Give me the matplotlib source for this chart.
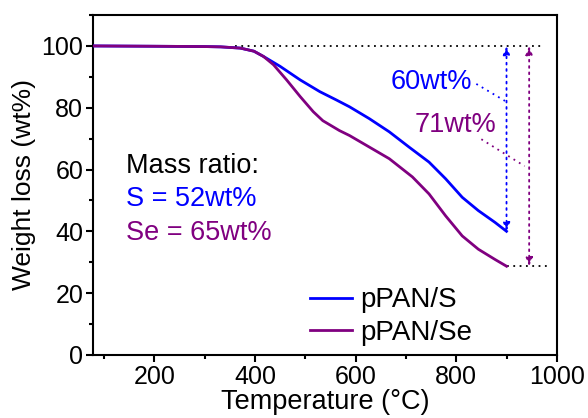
import matplotlib
matplotlib.use("Agg")
import matplotlib.pyplot as plt
from matplotlib.ticker import MultipleLocator

plt.rcParams['font.family'] = ['Liberation Sans', 'DejaVu Sans']

# Data
temp_s = [80, 200, 300, 332, 371, 398, 417, 450, 490, 529, 562, 588, 627, 667, 706, 746, 779, 812, 844, 877, 900]
wt_s = [100, 99.9, 99.8, 99.7, 99.3, 98.3, 96.6, 93.4, 89.0, 85.2, 82.5, 80.3, 76.5, 72.2, 67.3, 62.4, 57.0, 51.0, 46.7, 42.9, 40.0]
temp_se = [80, 200, 300, 332, 371, 398, 417, 437, 463, 490, 516, 535, 568, 588, 627, 667, 713, 746, 779, 812, 844, 877, 900]
wt_se = [100, 99.9, 99.8, 99.7, 99.3, 98.3, 96.6, 93.9, 89.0, 83.6, 78.7, 75.8, 72.6, 71.0, 67.3, 63.5, 57.6, 52.1, 45.0, 38.5, 34.2, 30.9, 28.7]
labels = ["pPAN/S", "pPAN/Se"]
colors = ["#0000ff", "#800080"]
loss_labels = ["60wt%", "71wt%"]
ratio_lines = ["Mass ratio:", "S = 52wt%", "Se = 65wt%"]

fig = plt.figure(figsize=(5.88, 4.18), dpi=100)
ax = fig.add_axes([0.158, 0.151, 0.789, 0.813])

ax.plot(temp_s, wt_s, color=colors[0], lw=2.0, label=labels[0], zorder=3)
ax.plot(temp_se, wt_se, color=colors[1], lw=2.0, label=labels[1], zorder=3)

dot = (0, (1, 2.5))
ax.plot([360, 975], [100, 100], color='black', lw=1.3, ls=dot, zorder=2)
ax.plot([900, 980], [wt_se[-1], wt_se[-1]], color='black', lw=1.3, ls=dot, zorder=2)

# vertical double arrows
for x, ybot, c in [(900, wt_s[-1], colors[0]), (945, wt_se[-1], colors[1])]:
    ax.annotate('', xy=(x, 100), xytext=(x, ybot),
                arrowprops=dict(arrowstyle='<|-|>,head_length=0.5,head_width=0.2', color=c, lw=1.3, ls=dot,
                                mutation_scale=10, shrinkA=0, shrinkB=0))

# leader lines
ax.plot([840, 897], [87.7, 82.2], color=colors[0], lw=1.3, ls=dot)
ax.plot([850, 936], [69.8, 61.1], color=colors[1], lw=1.3, ls=dot)

ax.text(750, 88.3, loss_labels[0], color=colors[0], fontsize=19.5, ha='center', va='center')
ax.text(799, 74.4, loss_labels[1], color=colors[1], fontsize=19.5, ha='center', va='center')

ax.text(143, 61.3, ratio_lines[0], color='black', fontsize=19.5, ha='left', va='center')
ax.text(143, 50.3, ratio_lines[1], color=colors[0], fontsize=19.5, ha='left', va='center')
ax.text(143, 39.6, ratio_lines[2], color=colors[1], fontsize=19.5, ha='left', va='center')

ax.set_xlim(78, 1000)
ax.set_ylim(0, 110)
ax.xaxis.set_major_locator(MultipleLocator(200))
ax.xaxis.set_minor_locator(MultipleLocator(100))
ax.yaxis.set_major_locator(MultipleLocator(20))
ax.yaxis.set_minor_locator(MultipleLocator(10))
ax.tick_params(which='both', direction='out', width=1.5, labelsize=18, pad=2)
ax.tick_params(which='major', length=5)
ax.tick_params(which='minor', length=3)
for s in ax.spines.values():
    s.set_linewidth(1.5)

ax.set_xlabel('Temperature (°C)', fontsize=19.5, labelpad=0)
ax.set_ylabel('Weight loss (wt%)', fontsize=19, labelpad=4)

leg = ax.legend(loc='lower left', bbox_to_anchor=(0.414, -0.048), frameon=False, fontsize=20,
                handlelength=1.5, handletextpad=0.3, labelspacing=0.25)
for h in leg.legend_handles:
    h.set_linewidth(2.0)

fig.savefig('out.png', dpi=100)
